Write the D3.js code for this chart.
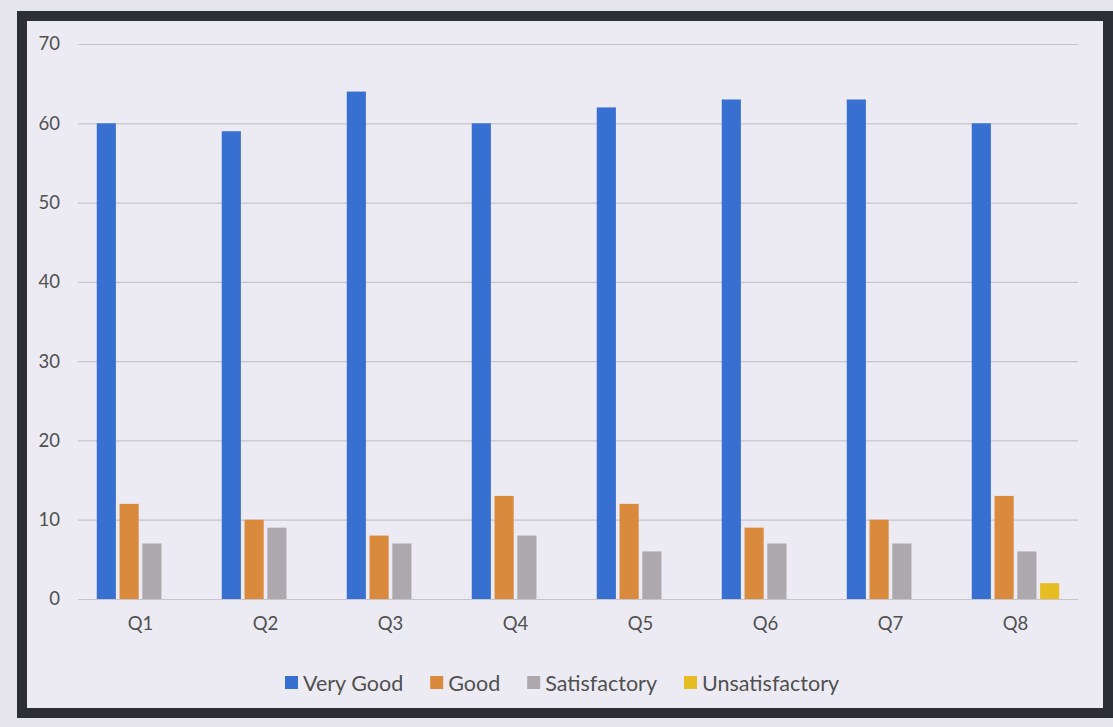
<!DOCTYPE html>
<html>
<head>
<meta charset="utf-8">
<script src="https://cdn.jsdelivr.net/npm/d3@7"></script>
<style>
  html, body { margin: 0; padding: 0; background: #e6e5ec; }
  svg { display: block; }
  text { font-family: Lato, "Open Sans", sans-serif; }
</style>
</head>
<body>
<svg id="chart" width="1113" height="727"></svg>
<script>
const categories = ["Q1", "Q2", "Q3", "Q4", "Q5", "Q6", "Q7", "Q8"];
const seriesNames = ["Very Good", "Good", "Satisfactory", "Unsatisfactory"];
const veryGood = [60, 59, 64, 60, 62, 63, 63, 60];
const good = [12, 10, 8, 13, 12, 9, 10, 13];
const satisfactory = [7, 9, 7, 8, 6, 7, 7, 6];
const unsatisfactory = [0, 0, 0, 0, 0, 0, 0, 2];
const yTicks = [0, 10, 20, 30, 40, 50, 60, 70];
const colors = ["#3870d2", "#d98a3d", "#aca8ae", "#e6bd22"];

(function () {
const seriesValues = [veryGood, good, satisfactory, unsatisfactory];
const data = categories.map((c, i) => ({
  cat: c,
  vals: seriesNames.map((s, j) => ({ key: s, value: seriesValues[j][i] }))
}));

const svg = d3.select("#chart");
svg.append("rect").attr("width", 1113).attr("height", 727).attr("fill", "#e6e5ec");
svg.append("rect")
  .attr("x", 22).attr("y", 16).attr("width", 1086).attr("height", 697)
  .attr("fill", "#ecebf3").attr("stroke", "#2e2e36").attr("stroke-width", 10);

const pLeft = 78, pRight = 1078, pTop = 44, pBottom = 599;
const y = d3.scaleLinear().domain([0, 70]).range([pBottom, pTop]);
const x0 = d3.scaleBand().domain(categories).range([pLeft, pRight]).paddingInner(0.3).paddingOuter(0.15);
const x1 = d3.scaleBand().domain(seriesNames).range([0, x0.bandwidth()]).paddingInner(0.16);
const color = d3.scaleOrdinal().domain(seriesNames).range(colors);

// gridlines + y labels
const yAxis = d3.axisLeft(y).tickValues(yTicks).tickSize(-(pRight - pLeft)).tickPadding(18);
const gy = svg.append("g").attr("transform", `translate(${pLeft},0)`).call(yAxis);
gy.select(".domain").remove();
gy.selectAll(".tick line").attr("stroke", "#c6c4cb").attr("stroke-width", 1.2);
gy.selectAll(".tick text").attr("fill", "#505050").style("font-size", "18.5px");

// x labels
const xAxis = d3.axisBottom(x0).tickSize(0).tickPadding(18);
const gx = svg.append("g").attr("transform", `translate(0,${pBottom})`).call(xAxis);
gx.select(".domain").remove();
gx.selectAll(".tick text").attr("fill", "#505050").style("font-size", "18.5px");

// bars
svg.append("g").selectAll("g").data(data).join("g")
  .attr("transform", d => `translate(${x0(d.cat)},0)`)
  .selectAll("rect").data(d => d.vals.filter(v => v.value > 0)).join("rect")
  .attr("x", d => x1(d.key))
  .attr("y", d => y(d.value))
  .attr("width", x1.bandwidth())
  .attr("height", d => y(0) - y(d.value))
  .attr("fill", d => color(d.key));

// legend
const legend = svg.append("g");
let lx = 285;
const ly = 683;
seriesNames.forEach((s, i) => {
  legend.append("rect").attr("x", lx).attr("y", ly - 7).attr("width", 13).attr("height", 13).attr("fill", colors[i]);
  const t = legend.append("text").attr("x", lx + 18).attr("y", ly).attr("dy", "0.35em")
    .attr("fill", "#505050").style("font-size", "21.5px").text(s);
  lx += 18 + t.node().getComputedTextLength() + 27;
});
})();
</script>
</body>
</html>
